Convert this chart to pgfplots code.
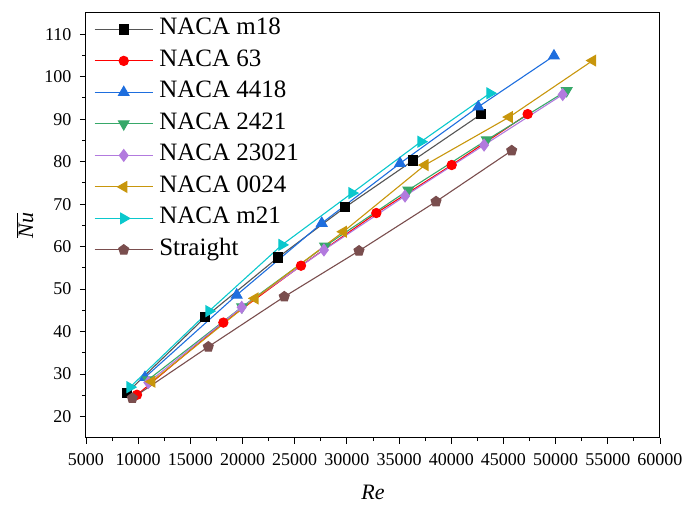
\documentclass[border=0pt]{standalone}
\usepackage{fontspec}
\setmainfont{Liberation Serif}
\usepackage{pgfplots}
\pgfplotsset{compat=1.18}

\definecolor{cGray}{RGB}{85,85,85}
\definecolor{cRed}{RGB}{255,0,0}
\definecolor{cBlue}{RGB}{30,110,222}
\definecolor{cGreen}{RGB}{55,168,105}
\definecolor{cPurple}{RGB}{178,122,222}
\definecolor{cGold}{RGB}{200,150,12}
\definecolor{cCyan}{RGB}{10,200,205}
\definecolor{cBrown}{RGB}{122,78,78}

\begin{document}
\begin{tikzpicture}
\begin{axis}[
  name=ax,
  at={(0,0)}, anchor=south west,
  scale only axis,
  width=574pt, height=424.7pt,
  xmin=5000, xmax=60000,
  ymin=15, ymax=115,
  xtick={5000,10000,...,60000},
  ytick={20,30,...,110},
  minor x tick num=1,
  minor y tick num=1,
  tick align=outside,
  major tick length=6pt,
  minor tick length=3.5pt,
  tick style={black, line width=0.9pt},
  axis line style={black, line width=1pt},
  xtick pos=bottom, ytick pos=left,
  scaled x ticks=false,
  /pgf/number format/1000 sep={},
  /pgf/number format/assume math mode=true,
  ticklabel style={font=\fontsize{18}{21}\selectfont},
  xticklabel style={yshift=-6pt},
  yticklabel style={xshift=-5pt},
  xlabel={\textit{Re}},
  ylabel={$\overline{\hbox{\textit{Nu}}}$},
  every axis x label/.style={at={(0.5,-0.1295)}, anchor=center,
    font=\fontsize{22}{26}\selectfont},
  every axis y label/.style={at={(-0.1063,0.5)}, anchor=center, rotate=90,
    font=\fontsize{22}{26}\selectfont},
  legend cell align=left,
  legend image code/.code={
    \draw[mark repeat=2,mark phase=2,#1] plot coordinates {(0pt,0pt) (29pt,0pt) (58pt,0pt)};
  },
  legend style={
    at={(8pt,420pt)}, anchor=north west,
    draw=none, fill=none, inner sep=0pt,
    font=\fontsize{25}{30}\selectfont,
    nodes={inner sep=0pt, text height=17pt, text depth=6pt},
    row sep=8.5pt, column sep=6pt,
  },
]
% NACA m18
\addplot[color=cGray, line width=1.1pt, mark=square*, mark size=4.6pt,
  mark options={solid, fill=black, draw=black}] coordinates {
  (8900,25.5) (16430,43.4) (23370,57.4) (29850,69.3) (36360,80.3) (42880,91.2)
};
\addlegendentry{NACA m18}
% NACA 63
\addplot[color=cRed, line width=1.1pt, mark=*, mark size=4.6pt,
  mark options={solid, fill=cRed, draw=cRed}] coordinates {
  (9890,25.1) (18160,42.1) (25600,55.5) (32820,67.9) (40040,79.2) (47320,91.2)
};
\addlegendentry{NACA 63}
% NACA 4418
\addplot[color=cBlue, line width=1.1pt, mark=triangle*, mark size=6pt,
  mark options={solid, fill=cBlue, draw=cBlue}] coordinates {
  (10650,29.2) (19440,48.6) (27590,65.5) (35090,79.6) (42590,92.9) (49840,104.9)
};
\addlegendentry{NACA 4418}
% NACA 2421
\addplot[color=cGreen, line width=1.1pt, mark=triangle*, mark size=6pt,
  mark options={solid, fill=cGreen, draw=cGreen, rotate=180}] coordinates {
  (10940,28.6) (19950,45.8) (27900,60.1) (35880,73.3) (43400,85.1) (51060,96.7)
};
\addlegendentry{NACA 2421}
% NACA 23021
\addplot[color=cPurple, line width=1.1pt, mark=diamond*, mark size=5.8pt,
  mark options={solid, fill=cPurple, draw=cPurple}] coordinates {
  (10970,28.0) (19920,45.7) (27800,59.2) (35570,71.9) (43140,83.9) (50680,95.8)
};
\addlegendentry{NACA 23021}
% NACA 0024
\addplot[color=cGold, line width=1.1pt, mark=triangle*, mark size=6pt,
  mark options={solid, fill=cGold, draw=cGold, rotate=90}] coordinates {
  (11300,28.2) (21190,47.8) (29660,63.5) (37480,79.2) (45560,90.5) (53550,103.8)
};
\addlegendentry{NACA 0024}
% NACA m21
\addplot[color=cCyan, line width=1.1pt, mark=triangle*, mark size=6pt,
  mark options={solid, fill=cCyan, draw=cCyan, rotate=-90}] coordinates {
  (9220,26.9) (16790,44.8) (23780,60.4) (30490,72.6) (37100,84.7) (43710,96.1)
};
\addlegendentry{NACA m21}
% Straight
\addplot[color=cBrown, line width=1.1pt, mark=pentagon*, mark size=5.2pt,
  mark options={solid, fill=cBrown, draw=cBrown}] coordinates {
  (9440,24.3) (16720,36.4) (24000,48.2) (31160,59.0) (38540,70.6) (45790,82.6)
};
\addlegendentry{Straight}
\end{axis}
\pgfresetboundingbox
\path[use as bounding box] (ax.south west) ++(-86pt,-66.3pt) rectangle ++(683pt,504pt);
\end{tikzpicture}
\end{document}
